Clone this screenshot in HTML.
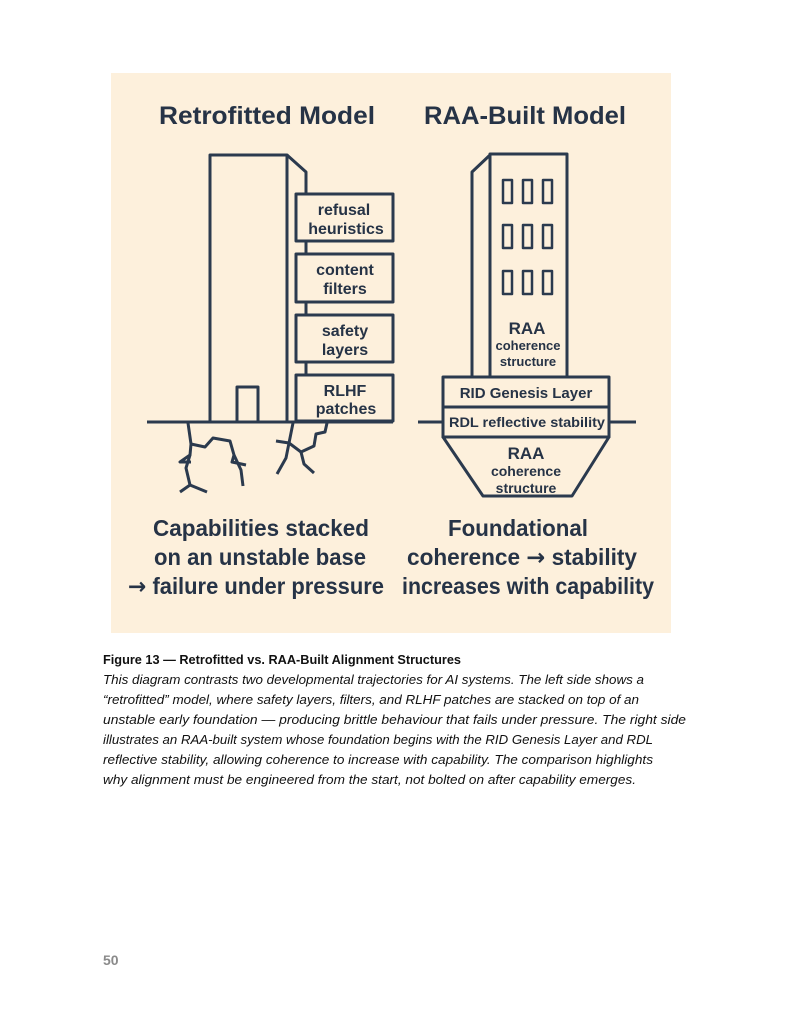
<!DOCTYPE html>
<html><head><meta charset="utf-8"><style>
html,body{margin:0;padding:0;background:#fff;}
svg{display:block}
</style></head><body>
<svg width="786" height="1019" viewBox="0 0 786 1019" xmlns="http://www.w3.org/2000/svg">
<rect x="111" y="73" width="560" height="560" fill="#fdf0dc"/>
<g font-family="Liberation Sans, sans-serif" font-weight="bold" fill="#263346" text-anchor="middle">
<text x="267" y="124" font-size="25" textLength="216" lengthAdjust="spacingAndGlyphs">Retrofitted Model</text>
<text x="525" y="124" font-size="25" textLength="202" lengthAdjust="spacingAndGlyphs">RAA-Built Model</text>
</g>
<g fill="none" stroke="#2b3a4e" stroke-width="3" stroke-linejoin="round">
<rect x="210" y="155" width="77" height="267" fill="#fdf0dc"/>
<polyline points="287,155 306,172 306,422"/>
<rect x="237" y="387" width="21" height="35"/>
<rect x="296" y="194" width="97" height="47" fill="#fdf0dc"/>
<rect x="296" y="254" width="97" height="48" fill="#fdf0dc"/>
<rect x="296" y="315" width="97" height="47" fill="#fdf0dc"/>
<rect x="296" y="375" width="97" height="46" fill="#fdf0dc"/>
<line x1="147" y1="422" x2="393" y2="422"/>
<polyline points="188,423 191,444 190,455 180,462 191,462"/>
<polyline points="191,444 205,447 213,438 230,441 234,455 232,462 246,465"/>
<polyline points="234,455 241,470 243,486"/>
<polyline points="190,455 186,468 190,485 180,492"/>
<polyline points="190,485 207,492"/>
<polyline points="293,423 289,443 276,441"/>
<polyline points="289,443 286,458 277,474"/>
<polyline points="289,443 301,452 314,446 316,434 325,432 327,423"/>
<polyline points="301,452 304,464 314,473"/>
<rect x="490" y="154" width="77" height="223" fill="#fdf0dc"/>
<polyline points="490,155 472,172 472,377"/>
<g stroke-width="2.5">
<rect x="503" y="180" width="9" height="23"/><rect x="523" y="180" width="9" height="23"/><rect x="543" y="180" width="9" height="23"/>
<rect x="503" y="225" width="9" height="23"/><rect x="523" y="225" width="9" height="23"/><rect x="543" y="225" width="9" height="23"/>
<rect x="503" y="271" width="9" height="23"/><rect x="523" y="271" width="9" height="23"/><rect x="543" y="271" width="9" height="23"/>
</g>
<rect x="443" y="377" width="166" height="30" fill="#fdf0dc"/>
<rect x="443" y="407" width="166" height="30" fill="#fdf0dc"/>
<line x1="418" y1="422" x2="443" y2="422"/>
<line x1="609" y1="422" x2="636" y2="422"/>
<polygon points="443,437 609,437 572,496 483,496"/>
</g>
<g font-family="Liberation Sans, sans-serif" font-weight="bold" fill="#263346" text-anchor="middle">
<text x="344" y="215" font-size="16">refusal</text>
<text x="346" y="234" font-size="16">heuristics</text>
<text x="345" y="275" font-size="16">content</text>
<text x="345" y="294" font-size="16">filters</text>
<text x="345" y="336" font-size="16">safety</text>
<text x="345" y="355" font-size="16">layers</text>
<text x="345" y="396" font-size="16">RLHF</text>
<text x="346" y="414" font-size="16">patches</text>
<text x="527" y="334" font-size="17">RAA</text>
<text x="528" y="350" font-size="13">coherence</text>
<text x="528" y="366" font-size="13">structure</text>
<text x="526" y="398" font-size="15">RID Genesis Layer</text>
<text x="527" y="427" font-size="14" textLength="156" lengthAdjust="spacingAndGlyphs">RDL reflective stability</text>
<text x="526" y="459" font-size="17">RAA</text>
<text x="526" y="476" font-size="14">coherence</text>
<text x="526" y="493" font-size="14">structure</text>
<text x="261" y="536" font-size="23" textLength="216" lengthAdjust="spacingAndGlyphs">Capabilities stacked</text>
<text x="260" y="565" font-size="23" textLength="212" lengthAdjust="spacingAndGlyphs">on an unstable base</text>
<text x="256" y="594" font-size="23" textLength="256" lengthAdjust="spacingAndGlyphs"><tspan font-family="DejaVu Sans, sans-serif">→</tspan> failure under pressure</text>
<text x="518" y="536" font-size="23" textLength="140" lengthAdjust="spacingAndGlyphs">Foundational</text>
<text x="522" y="565" font-size="23" textLength="230" lengthAdjust="spacingAndGlyphs">coherence <tspan font-family="DejaVu Sans, sans-serif">→</tspan> stability</text>
<text x="528" y="594" font-size="23" textLength="252" lengthAdjust="spacingAndGlyphs">increases with capability</text>
</g>
<g font-family="Liberation Sans, sans-serif" font-size="12.5" fill="#111">
<text x="103" y="664" font-weight="bold" textLength="358" lengthAdjust="spacingAndGlyphs">Figure 13 — Retrofitted vs. RAA-Built Alignment Structures</text>
<g font-style="italic">
<text x="103" y="684" textLength="541" lengthAdjust="spacingAndGlyphs">This diagram contrasts two developmental trajectories for AI systems. The left side shows a</text>
<text x="103" y="704" textLength="536" lengthAdjust="spacingAndGlyphs">“retrofitted” model, where safety layers, filters, and RLHF patches are stacked on top of an</text>
<text x="103" y="724" textLength="583" lengthAdjust="spacingAndGlyphs">unstable early foundation — producing brittle behaviour that fails under pressure. The right side</text>
<text x="103" y="744" textLength="550" lengthAdjust="spacingAndGlyphs">illustrates an RAA-built system whose foundation begins with the RID Genesis Layer and RDL</text>
<text x="103" y="764" textLength="550" lengthAdjust="spacingAndGlyphs">reflective stability, allowing coherence to increase with capability. The comparison highlights</text>
<text x="103" y="784" textLength="533" lengthAdjust="spacingAndGlyphs">why alignment must be engineered from the start, not bolted on after capability emerges.</text>
</g>
<text x="103" y="965" font-size="14" font-weight="bold" fill="#8a8a8a">50</text>
</g>
</svg>
</body></html>
